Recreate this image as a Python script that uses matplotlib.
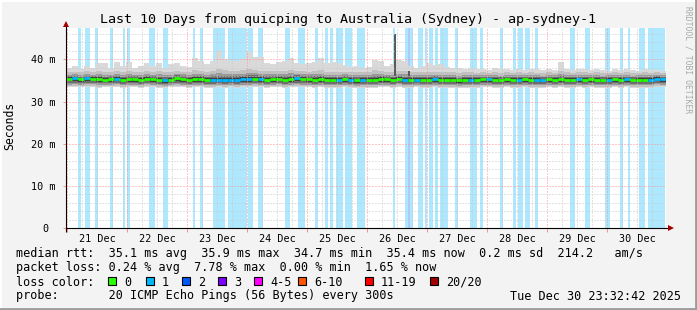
import numpy as np
import matplotlib
matplotlib.use("Agg")
import matplotlib.pyplot as plt
from matplotlib.collections import LineCollection
from matplotlib.patches import Rectangle
from datetime import datetime, timedelta

plt.rcParams['font.family'] = 'DejaVu Sans Mono'

# ---- data -------------------------------------------------------------
start = datetime(2025, 12, 20, 23, 32, 42)
span_hours = 240
bin_hours = 2.4

# median rtt per 2.4 h step (ms)
median = [35.4, 35.5, 35.3, 35.5, 35.4, 35.3, 35.2, 35.3, 35.4, 35.2,
          35.3, 35.3, 35.2, 35.4, 35.3, 35.1, 35.0, 35.2, 35.5, 35.3,
          35.2, 35.3, 35.3, 35.1, 35.2, 35.2, 35.2, 35.2, 35.2, 35.3,
          35.3, 35.4, 35.3, 35.2, 35.3, 35.4, 35.2, 35.3, 35.5, 35.4,
          35.3, 35.2, 35.3, 35.2, 35.1, 35.2, 35.3, 35.1, 35.0, 35.1,
          35.2, 35.1, 35.3, 35.3, 35.2, 35.4, 35.1, 35.2, 35.2, 35.1,
          35.2, 35.3, 35.2, 35.2, 35.1, 35.0, 35.2, 35.1, 35.2, 35.3,
          35.3, 35.2, 35.1, 35.3, 35.2, 35.2, 35.3, 35.2, 35.2, 35.1,
          35.3, 35.2, 35.3, 35.1, 35.2, 35.3, 35.2, 35.3, 35.2, 35.1,
          35.2, 35.3, 35.2, 35.3, 35.1, 35.2, 35.1, 35.2, 35.4, 35.3]

# lost pings (of 20) per step, used to colour the median
loss = [0, 1, 0, 1, 0, 0, 0, 0, 1, 0,
        0, 0, 0, 0, 0, 0, 1, 0, 0, 0,
        0, 0, 0, 0, 1, 1, 1, 1, 1, 1,
        1, 0, 1, 0, 0, 0, 0, 0, 1, 0,
        0, 0, 0, 0, 0, 1, 0, 1, 0, 1,
        0, 0, 0, 0, 0, 0, 1, 0, 1, 0,
        0, 1, 0, 0, 0, 0, 0, 1, 0, 0,
        1, 0, 0, 0, 0, 1, 0, 0, 1, 1,
        0, 0, 0, 0, 0, 1, 0, 0, 0, 0,
        1, 0, 0, 1, 0, 0, 0, 1, 1, 1]

# smoke: fastest ping, upper quantile and slowest ping (ms)
smoke_min = [33.4, 33.5, 33.4, 33.4, 33.5, 33.3, 33.4, 33.4, 33.5, 33.3,
             33.4, 33.4, 33.3, 33.5, 33.4, 33.3, 33.2, 33.4, 33.5, 33.4,
             33.3, 33.4, 33.4, 33.3, 33.3, 33.4, 33.3, 33.4, 33.3, 33.4,
             33.4, 33.5, 33.4, 33.3, 33.4, 33.5, 33.3, 33.4, 33.5, 33.4,
             33.4, 33.3, 33.4, 33.3, 33.3, 33.3, 33.4, 33.3, 33.2, 33.3,
             33.3, 33.3, 33.4, 33.4, 33.3, 33.5, 33.3, 33.3, 33.4, 33.3,
             33.3, 33.4, 33.3, 33.3, 33.3, 33.2, 33.3, 33.3, 33.3, 33.4,
             33.4, 33.3, 33.3, 33.4, 33.3, 33.3, 33.4, 33.3, 33.3, 33.3,
             33.4, 33.3, 33.4, 33.3, 33.3, 33.4, 33.3, 33.4, 33.3, 33.3,
             33.3, 33.4, 33.3, 33.4, 33.3, 33.3, 33.3, 33.3, 33.5, 33.4]
smoke_q80 = [37.0, 37.1, 36.9, 37.2, 37.0, 37.3, 37.1, 37.0, 37.3, 37.0,
             37.2, 37.0, 37.1, 37.2, 37.0, 37.2, 36.9, 37.1, 37.3, 37.1,
             37.0, 37.4, 37.3, 37.1, 37.3, 37.6, 37.4, 37.3, 37.3, 37.4,
             37.6, 37.5, 37.3, 37.2, 37.2, 37.3, 37.3, 37.5, 37.3, 37.2,
             37.1, 37.3, 37.4, 37.1, 37.0, 37.0, 37.1, 36.9, 37.0, 36.9,
             37.0, 37.4, 37.3, 37.0, 37.1, 37.3, 37.2, 37.0, 36.9, 37.0,
             37.1, 37.0, 37.1, 36.9, 36.9, 36.8, 36.9, 36.9, 36.8, 36.9,
             36.8, 36.9, 36.8, 36.9, 36.8, 36.9, 36.8, 36.9, 36.8, 36.8,
             36.9, 36.8, 37.2, 36.9, 36.8, 36.9, 36.9, 36.8, 36.9, 36.8,
             36.8, 36.9, 36.8, 36.9, 36.8, 36.8, 36.9, 36.8, 36.9, 36.8]
smoke_max = [38.0, 38.3, 37.8, 38.5, 38.0, 39.2, 39.0, 38.0, 39.4, 38.4,
             39.3, 38.0, 38.5, 39.0, 38.4, 39.2, 38.0, 38.8, 39.0, 38.5,
             38.2, 40.3, 39.5, 38.8, 39.5, 42.0, 40.0, 39.6, 39.5, 40.0,
             41.8, 40.5, 40.6, 39.0, 38.8, 39.3, 39.5, 40.3, 39.2, 38.8,
             39.0, 39.4, 40.2, 39.0, 39.3, 39.2, 38.7, 38.2, 38.4, 38.0,
             38.2, 39.8, 39.6, 38.5, 38.8, 39.8, 39.6, 38.5, 38.0, 38.3,
             39.0, 38.6, 38.8, 38.2, 38.0, 38.0, 37.8, 38.0, 37.6, 37.8,
             37.5, 37.9, 37.6, 37.8, 37.5, 37.7, 37.5, 37.8, 37.6, 37.4,
             37.6, 37.5, 39.3, 37.8, 37.5, 37.6, 37.8, 37.4, 37.6, 37.5,
             37.3, 37.6, 37.4, 37.7, 37.5, 37.3, 37.6, 37.4, 37.5, 37.3]

# single slow samples on 26 Dec
spike_hour = [131.6, 137.2]
spike_low = [36.0, 35.4]
spike_top = [46.0, 37.2]

# periods with packet loss (hours after start) and lost pings
band_start = [4.8, 7.6, 11.6, 17.6, 22.8, 24.4, 33.2, 38.8, 50.8, 53.6,
              58.8, 64.8, 72.8, 76.8, 87.6, 92.8, 99.6, 103.6, 105.6, 108.0,
              111.6, 116.4, 130.8, 135.6, 136.8, 137.6, 140.8, 143.6, 145.2, 147.6,
              149.6, 155.6, 161.6, 165.6, 173.6, 178.8, 180.8, 183.6, 187.6, 201.6,
              207.6, 215.6, 221.6, 224.8, 229.2, 232.8]
band_end = [5.8, 9.6, 12.8, 18.8, 23.6, 25.6, 35.6, 40.8, 51.6, 54.8,
            63.6, 72.4, 74.8, 78.8, 89.6, 95.6, 100.8, 104.8, 106.8, 110.8,
            114.4, 119.6, 131.6, 136.8, 137.6, 138.8, 142.8, 144.4, 146.8, 148.8,
            152.8, 156.8, 164.4, 166.8, 174.8, 180.0, 182.8, 185.6, 188.8, 203.6,
            209.6, 217.6, 222.8, 225.6, 231.6, 239.6]
band_loss = [1, 1, 1, 1, 1, 1, 1, 1, 1, 1,
             1, 1, 1, 1, 1, 1, 1, 1, 1, 1,
             1, 1, 1, 1, 2, 1, 1, 1, 1, 1,
             1, 1, 1, 1, 1, 1, 1, 1, 1, 1,
             1, 1, 1, 1, 1, 1]

loss_labels = ['0', '1', '2', '3', '4-5', '6-10', '11-19', '20/20']
loss_colors = ['#26ff00', '#00b8ff', '#0059ff', '#7e00ff',
               '#ff00ff', '#ff5500', '#ff0000', '#a10000']
loss_box_x = [108, 146, 182, 218, 254, 298, 365, 430]

title = 'Last 10 Days from quicping to Australia (Sydney) - ap-sydney-1'
legend_rows = [
    'median rtt:  35.1 ms avg  35.9 ms max  34.7 ms min  35.4 ms now  0.2 ms sd  214.2   am/s',
    'packet loss: 0.24 % avg  7.78 % max  0.00 % min  1.65 % now',
]
probe_text = 'probe:       20 ICMP Echo Pings (56 Bytes) every 300s'
stamp_text = 'Tue Dec 30 23:32:42 2025'

# ---- figure -----------------------------------------------------------
W, H = 697, 310
fig = plt.figure(figsize=(W / 100, H / 100), dpi=100, facecolor='#f3f3f3')
ax = fig.add_axes([66 / W, 1 - 228.3 / H, 600 / W, 200.3 / H])
ax.set_facecolor('white')
ymax = 47.4
ax.set_xlim(0, span_hours)
ax.set_ylim(0, ymax)

# loss background
for s, e, l in zip(band_start, band_end, band_loss):
    ax.axvspan(s, e, color=loss_colors[l], alpha=0.32, lw=0, zorder=1)

# smoke
edges = np.arange(len(median) + 1) * bin_hours
med = np.append(median, median[-1])
lo = np.append(smoke_min, smoke_min[-1])
q80 = np.append(smoke_q80, smoke_q80[-1])
hi = np.append(smoke_max, smoke_max[-1])

def mix(a, b, t):
    return a + (b - a) * t

ax.fill_between(edges, lo, hi, step='post', color='#d9d9d9', lw=0, zorder=2)
layers = [(0.9, 1.0, '#c0c0c0'), (0.7, 0.62, '#999999'),
          (0.5, 0.38, '#6e6e6e'), (0.32, 0.2, '#404040'), (0.18, 0.08, '#1e1e1e')]
for tl, th, c in layers:
    ax.fill_between(edges, mix(med, lo, tl), mix(med, q80, th), step='post',
                    color=c, lw=0, zorder=2)

for h, l, t in zip(spike_hour, spike_low, spike_top):
    ax.bar(h, t - l, bottom=l, width=0.9, color='#5a5a5a', lw=0, zorder=2)

# median coloured by loss
segs, cols = [], []
for i in range(len(median)):
    segs.append([(edges[i], median[i]), (edges[i + 1], median[i])])
    cols.append(loss_colors[loss[i]])
    if i + 1 < len(median):
        segs.append([(edges[i + 1], median[i]), (edges[i + 1], median[i + 1])])
        cols.append(loss_colors[loss[i + 1]])
ax.add_collection(LineCollection(segs, colors=cols, linewidths=2.0,
                                 capstyle='butt', zorder=4))

# grid
first_midnight = (datetime(2025, 12, 21) - start).total_seconds() / 3600
grid_gray = '#c8c8c8'
grid_red = '#ff9090'
for k in range(0, 41):
    x = first_midnight + 6 * k
    if x >= span_hours:
        break
    c = grid_red if k % 4 == 0 else grid_gray
    ax.axvline(x, color=c, lw=0.72, ls=(0, (1, 2)), zorder=5)
for v in range(2, 48, 2):
    c = grid_red if v % 10 == 0 else grid_gray
    ax.axhline(v, color=c, lw=0.72, ls=(0, (1, 2)), zorder=5)

# ticks
noon = [first_midnight + 12 + 24 * k for k in range(10)]
ax.set_xticks(noon)
ax.set_xticklabels(['%d Dec' % (21 + k) for k in range(10)])
ax.set_xticks([first_midnight + 24 * k for k in range(10)], minor=True)
ax.set_yticks([0, 10, 20, 30, 40])
ax.set_yticklabels(['0 ', '10 m', '20 m', '30 m', '40 m'])
ax.tick_params(axis='x', which='major', length=0, pad=4, labelsize=7.3)
ax.tick_params(axis='x', which='minor', length=3, color=grid_red, width=0.72)
ax.tick_params(axis='y', length=2, color=grid_red, width=0.72, pad=5.5, labelsize=7.3)

for side in ['top', 'right', 'left', 'bottom']:
    ax.spines[side].set_visible(False)

# axes with arrows
ax.plot([0, 1 + 3 / 600], [0, 0], color='black', lw=0.8, transform=ax.transAxes,
        clip_on=False, zorder=6, solid_capstyle='butt')
ax.plot([0, 0], [-4 / 200.3, 1 + 2 / 200.3], color='black', lw=0.8,
        transform=ax.transAxes, clip_on=False, zorder=6, solid_capstyle='butt')
ax.plot([1 + 5 / 600], [0], marker='>', color='#a00000', ms=4.5, mew=0,
        transform=ax.transAxes, clip_on=False, zorder=7)
ax.plot([0], [1 + 4 / 200.3], marker='^', color='#a00000', ms=4.5, mew=0,
        transform=ax.transAxes, clip_on=False, zorder=7)

# text
fig.text(348 / W, 1 - 19 / H, title, ha='center', va='center', fontsize=9.6)
fig.text(10 / W, 1 - 126 / H, 'Seconds', rotation=90, ha='center', va='center',
         fontsize=8.3)
fig.text(688 / W, 1 - 60 / H, 'RRDTOOL / TOBI OETIKER', rotation=270,
         ha='center', va='center', fontsize=5.8, color='#a8a8a8')

fs = 8.5
fig.text(16 / W, 1 - 254 / H, legend_rows[0], va='center', fontsize=fs)
fig.text(16 / W, 1 - 268 / H, legend_rows[1], va='center', fontsize=fs)
fig.text(16 / W, 1 - 282 / H, 'loss color:', va='center', fontsize=fs)
for x, lab, c in zip(loss_box_x, loss_labels, loss_colors):
    fig.add_artist(Rectangle((x / W, 1 - 284.5 / H), 8 / W, 8 / H, facecolor=c,
                             edgecolor='black', lw=0.8, transform=fig.transFigure))
    fig.text((x + 16) / W, 1 - 282 / H, lab, va='center', fontsize=fs)
fig.text(16 / W, 1 - 296 / H, probe_text, va='center', fontsize=fs)
fig.text(681 / W, 1 - 296 / H, stamp_text, va='center', ha='right', fontsize=fs)

# frame
fig.add_artist(plt.Line2D([0, 1], [1 - 1 / H, 1 - 1 / H], color='white', lw=1.5,
                          transform=fig.transFigure))
fig.add_artist(plt.Line2D([1 / W, 1 / W], [0, 1], color='white', lw=1.5,
                          transform=fig.transFigure))
fig.add_artist(plt.Line2D([0, 1], [1.5 / H, 1.5 / H], color='#9c9c9c', lw=2,
                          transform=fig.transFigure))
fig.add_artist(plt.Line2D([1 - 1.5 / W, 1 - 1.5 / W], [0, 1], color='#9c9c9c', lw=2,
                          transform=fig.transFigure))

fig.savefig('out.png', dpi=100, facecolor=fig.get_facecolor())
